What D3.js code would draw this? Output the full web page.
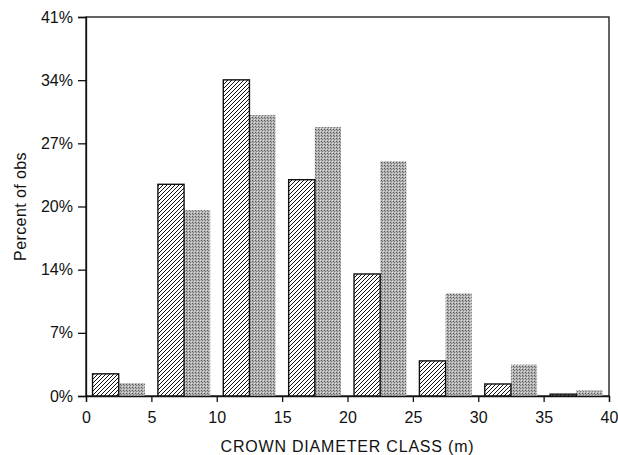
<!DOCTYPE html>
<html>
<head>
<meta charset="utf-8">
<script src="https://cdn.jsdelivr.net/npm/d3@7"></script>
<style>
	body { margin: 0; background: #fff; }
	text { font-family: "Liberation Sans", Arial, sans-serif; fill: #111; }
</style>
</head>
<body>
<svg id="canvas" width="618" height="455"></svg>
<script>
// crown diameter classes (m), lower bound of each 5 m class
var classStart = [0, 5, 10, 15, 20, 25, 30, 35];
// percent of observations, hatched series
var hatched = [2.4, 22.9, 34.2, 23.4, 13.2, 3.8, 1.3, 0.2];
// percent of observations, stippled series
var stippled = [1.4, 20.1, 30.4, 29.1, 25.4, 11.1, 3.4, 0.6];
var yTickLabels = ["0%", "7%", "14%", "20%", "27%", "34%", "41%"];
var xTicks = [0, 5, 10, 15, 20, 25, 30, 35, 40];

const svg = d3.select("#canvas");
const plotLeft = 86, plotRight = 609, plotTop = 17, plotBottom = 396;

const x = d3.scaleLinear().domain([0, 40]).range([plotLeft, plotRight]);
const y = d3.scaleLinear().domain([0, 41]).range([plotBottom, plotTop]);

// patterns
const defs = svg.append("defs");
const hatch = defs.append("pattern")
	.attr("id", "hatch")
	.attr("patternUnits", "userSpaceOnUse")
	.attr("width", 4).attr("height", 4);
hatch.append("rect").attr("width", 4).attr("height", 4).attr("fill", "#fff");
hatch.append("path")
	.attr("d", "M-1,1 L1,-1 M0,4 L4,0 M3,5 L5,3")
	.attr("stroke", "#111")
	.attr("stroke-width", 1);

const stip = defs.append("pattern")
	.attr("id", "stip")
	.attr("patternUnits", "userSpaceOnUse")
	.attr("width", 3).attr("height", 3);
stip.append("rect").attr("width", 3).attr("height", 3).attr("fill", "#b4b4b4");
stip.append("rect").attr("x", 0).attr("y", 0).attr("width", 1).attr("height", 1).attr("fill", "#555");
stip.append("rect").attr("x", 1).attr("y", 1).attr("width", 1).attr("height", 1).attr("fill", "#7a7a7a");
stip.append("rect").attr("x", 2).attr("y", 2).attr("width", 1).attr("height", 1).attr("fill", "#dcdcdc");

// frame
svg.append("rect")
	.attr("x", plotLeft).attr("y", plotTop)
	.attr("width", plotRight - plotLeft).attr("height", plotBottom - plotTop)
	.attr("fill", "none")
	.attr("stroke", "#111")
	.attr("stroke-width", 1.3);

// stippled bars
svg.append("g")
	.selectAll("rect")
	.data(classStart)
	.join("rect")
	.attr("x", (d) => x(d + 2.5))
	.attr("y", (d, i) => y(stippled[i]))
	.attr("width", (d) => x(d + 4.5) - x(d + 2.5))
	.attr("height", (d, i) => y(0) - y(stippled[i]))
	.attr("fill", "url(#stip)");

// hatched bars
svg.append("g")
	.selectAll("rect")
	.data(classStart)
	.join("rect")
	.attr("x", (d) => x(d + 0.5))
	.attr("y", (d, i) => y(hatched[i]))
	.attr("width", (d) => x(d + 2.5) - x(d + 0.5))
	.attr("height", (d, i) => y(0) - y(hatched[i]))
	.attr("fill", "url(#hatch)")
	.attr("stroke", "#111")
	.attr("stroke-width", 1.4);

// y axis
const yAxis = d3.axisLeft(y)
	.tickValues(d3.range(7).map(i => i * 41 / 6))
	.tickFormat((d, i) => yTickLabels[i])
	.tickSize(8)
	.tickPadding(5);
const gy = svg.append("g").attr("transform", `translate(${plotLeft},0)`).call(yAxis);

// x axis
const xAxis = d3.axisBottom(x)
	.tickValues(xTicks)
	.tickSize(6)
	.tickPadding(10);
const gx = svg.append("g").attr("transform", `translate(0,${plotBottom})`).call(xAxis);

[gy, gx].forEach(g => {
	g.select(".domain").attr("stroke", "#111").attr("stroke-width", 1.3);
	g.selectAll(".tick line").attr("stroke", "#111").attr("stroke-width", 1.3);
	g.selectAll(".tick text")
		.attr("fill", "#111")
		.style("font-family", "'Liberation Sans', Arial, sans-serif")
		.style("font-size", "16px");
});

// axis titles
svg.append("text")
	.attr("x", (plotLeft + plotRight) / 2)
	.attr("y", 452)
	.attr("text-anchor", "middle")
	.style("font-size", "16px")
	.style("letter-spacing", "0.8px")
	.text("CROWN DIAMETER CLASS (m)");

svg.append("text")
	.attr("transform", `translate(26,${(plotTop + plotBottom) / 2}) rotate(-90)`)
	.attr("text-anchor", "middle")
	.style("font-size", "16px")
	.style("letter-spacing", "0.4px")
	.text("Percent of obs");
</script>
</body>
</html>
